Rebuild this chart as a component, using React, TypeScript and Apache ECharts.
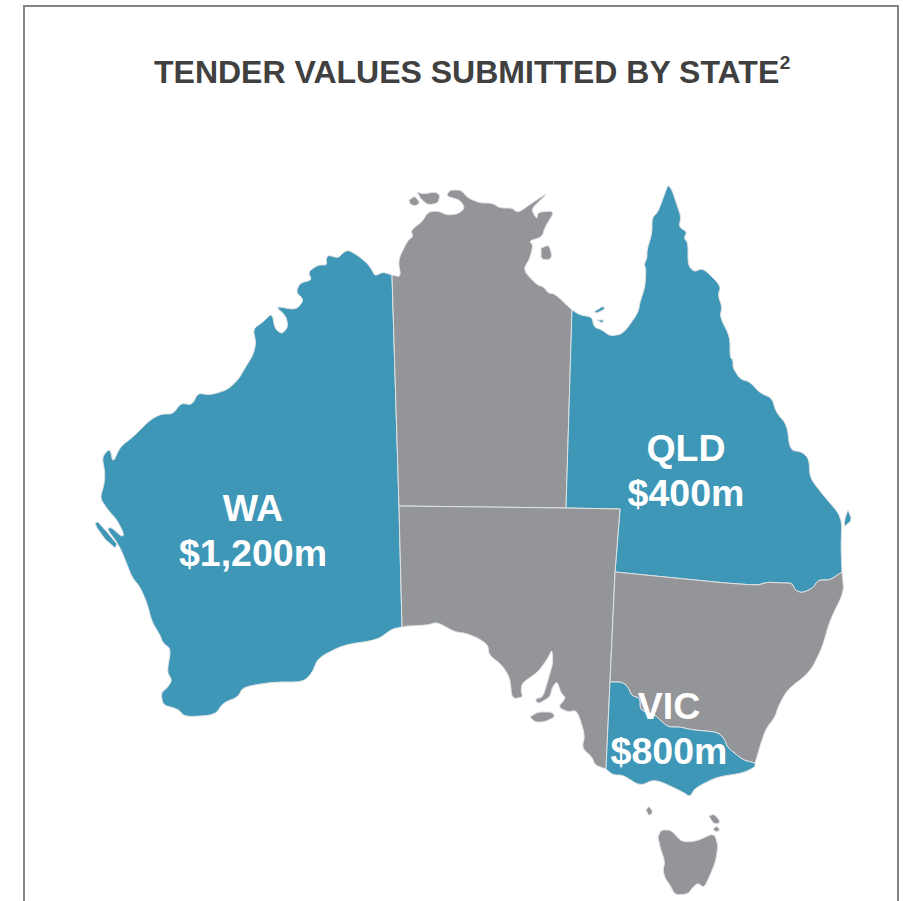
import React, { useEffect, useRef } from "react";
import * as echarts from "echarts";

type Pt = [number, number];

const titleText = "TENDER VALUES SUBMITTED BY STATE";
const titleNote = "2";
const tenderStates = ["WA", "QLD", "VIC"];
const tenderValues = [1200, 400, 800];
const otherStates = ["NT", "SA", "NSW", "TAS"];

// Map outlines (x, y in picture space).
const waCoast: Pt[] = [[392,275],[383,272],[375,276],[372,270],[367,263],[357,255],[348,250],[343,253],[338,258],[328,255],[326,260],[327,265],[318,265],[308,272],[312,280],[300,283],[296,292],[304,300],[296,310],[275,306],[286,316],[288,327],[282,334],[275,329],[272,313],[263,322],[253,329],[256,343],[253,355],[245,368],[238,380],[227,390],[210,395],[198,393],[192,405],[181,403],[173,414],[161,414],[150,420],[133,437],[120,447],[113,463],[110,448],[102,457],[105,473],[104,485],[100,498],[108,510],[117,520],[124,534],[122,537],[111,527],[107,529],[116,541],[119,546],[122,552],[128,567],[132,577],[140,587],[147,603],[152,622],[160,635],[163,643],[171,649],[167,672],[172,680],[168,687],[161,693],[163,705],[178,709],[185,717],[215,715],[223,703],[238,697],[243,687],[273,682],[303,682],[312,673],[318,658],[343,645],[377,640],[392,629],[402,627]];
const waNtBorder: Pt[] = [[392,275],[399,506]];
const ntSaBorderWest: Pt[] = [[399,506],[402,627]];
const ntCoast: Pt[] = [[392,275],[401,277],[398,260],[408,240],[413,237],[411,230],[422,222],[428,212],[438,211],[447,215],[458,214],[465,208],[460,200],[446,196],[450,190],[461,190],[468,198],[480,203],[492,203],[500,208],[512,208],[518,213],[532,203],[549,192],[532,208],[533,213],[537,219],[538,212],[555,211],[545,227],[542,237],[529,241],[533,245],[530,258],[523,270],[537,285],[544,287],[548,293],[555,294],[572,310]];
const ntQldBorder: Pt[] = [[572,310],[566,508]];
const ntSaBorder: Pt[] = [[399,506],[566,508]];
const saQldBorder: Pt[] = [[566,508],[620,509],[615,572]];
const qldCoast: Pt[] = [[572,310],[580,315],[592,317],[594,327],[602,330],[610,336],[623,334],[638,313],[640,302],[645,287],[646,268],[644,265],[647,258],[647,250],[652,233],[652,218],[658,212],[665,193],[668,185],[672,190],[677,205],[681,217],[679,227],[687,232],[684,238],[688,243],[688,265],[694,272],[703,268],[721,286],[718,295],[722,307],[720,317],[730,337],[730,357],[733,360],[733,368],[740,379],[750,382],[760,393],[772,398],[776,412],[787,425],[790,450],[802,452],[809,459],[810,478],[823,495],[842,517],[841,547],[842,572]];
const qldNswBorder: Pt[] = [[842,572],[830,580],[818,580],[813,588],[802,593],[795,590],[792,583],[780,583],[768,582],[755,586],[615,572]];
const saNswBorder: Pt[] = [[615,572],[610,682]];
const saVicBorder: Pt[] = [[610,682],[606,769]];
const saCoast: Pt[] = [[606,769],[595,765],[592,757],[582,748],[585,735],[577,710],[568,712],[558,707],[566,698],[561,693],[557,681],[552,688],[550,697],[538,704],[535,699],[543,697],[548,680],[553,663],[552,649],[548,658],[538,672],[522,683],[521,692],[523,697],[512,699],[510,678],[502,665],[489,655],[488,645],[478,638],[465,633],[455,632],[437,622],[428,625],[408,626],[402,627]];
const nswCoast: Pt[] = [[842,572],[844,592],[830,620],[822,648],[810,672],[787,690],[778,707],[775,717],[765,730],[755,763]];
const nswVicBorder: Pt[] = [[755,763],[743,760],[727,747],[725,740],[718,732],[693,730],[680,727],[668,727],[658,718],[655,715],[640,710],[640,698],[632,696],[628,687],[622,682],[610,682]];
const vicCoast: Pt[] = [[606,769],[613,775],[623,775],[640,786],[655,779],[683,792],[690,797],[695,788],[717,777],[743,773],[755,767],[755,763]];
const sharkBay: Pt[] = [[95,523],[98,522],[107,532],[117,544],[115,548],[105,539],[97,528],[95,523]];
const kangaroo: Pt[] = [[530,717],[538,712],[552,712],[555,717],[544,722],[535,722],[530,717]];
const melville: Pt[] = [[417,192],[423,194],[435,192],[440,195],[438,203],[428,205],[421,199],[417,192]];
const bathurst: Pt[] = [[409,200],[415,196],[420,203],[415,206],[410,204],[409,200]];
const groote: Pt[] = [[541,248],[549,245],[552,256],[549,260],[541,259],[541,248]];
const mornington: Pt[] = [[594,312],[603,306],[605,309],[597,313],[594,312]];
const bentinck: Pt[] = [[597,320],[604,320],[602,323],[597,320]];
const fraser: Pt[] = [[848,510],[852,520],[844,527],[845,518],[848,510]];
const tasmania: Pt[] = [[658,837],[661,830],[671,830],[680,840],[685,842],[697,841],[714,833],[718,845],[716,860],[711,873],[704,888],[698,883],[693,887],[688,894],[675,895],[670,885],[665,878],[663,870],[665,862],[660,847],[658,837]];
const kingIsland: Pt[] = [[646,810],[649,806],[653,812],[649,816],[646,810]];
const flinders: Pt[] = [[709,816],[714,814],[720,821],[718,824],[713,823],[709,816]];
const capeBarren: Pt[] = [[713,829],[717,826],[720,830],[716,832],[713,829]];

const labelAnchors: Record<string, Pt> = { WA: [253, 530], QLD: [686, 470], VIC: [669, 728], NT: [480, 400], SA: [500, 570], NSW: [730, 640], TAS: [690, 860] };

const smooth = (chain: Pt[], passes = 2, r = 0.2): Pt[] => {
  let pts = chain;
  if (pts.length < 3) return pts;
  for (let p = 0; p < passes; p++) {
    const out: Pt[] = [pts[0]];
    for (let i = 0; i < pts.length - 1; i++) {
      const [a, b] = [pts[i], pts[i + 1]];
      out.push([a[0] + (b[0] - a[0]) * r, a[1] + (b[1] - a[1]) * r]);
      out.push([a[0] + (b[0] - a[0]) * (1 - r), a[1] + (b[1] - a[1]) * (1 - r)]);
    }
    out.push(pts[pts.length - 1]);
    pts = out;
  }
  return pts;
};
const rev = (c: Pt[]) => [...c].reverse();
const ring = (...chains: Pt[][]) => {
  const pts: Pt[] = chains.flatMap((c) => c);
  const r = pts.map(([x, y]) => [x, -y]);
  r.push(r[0]);
  return [r];
};
const s = smooth;

const feature = (name: string, polys: number[][][][]) => ({
  type: "Feature",
  properties: { name, cp: [labelAnchors[name][0], -labelAnchors[name][1]] },
  geometry: { type: "MultiPolygon", coordinates: polys },
});

const geo = {
  type: "FeatureCollection",
  features: [
    feature("WA", [ring(s(waCoast), rev(ntSaBorderWest), rev(waNtBorder)), ring(sharkBay)]),
    feature("NT", [ring(s(ntCoast), ntQldBorder, rev(ntSaBorder), rev(waNtBorder)), ring(s(melville, 1)), ring(s(bathurst, 1)), ring(s(groote, 1))]),
    feature("QLD", [ring(s(qldCoast), s(qldNswBorder), rev(saQldBorder), rev(ntQldBorder)), ring(s(mornington, 1)), ring(bentinck), ring(s(fraser, 1))]),
    feature("SA", [ring(ntSaBorder, saQldBorder, saNswBorder, saVicBorder, s(saCoast), rev(ntSaBorderWest)), ring(s(kangaroo, 1))]),
    feature("NSW", [ring(s(nswCoast), s(nswVicBorder), rev(saNswBorder), rev(s(qldNswBorder)))]),
    feature("VIC", [ring(s(vicCoast), s(nswVicBorder), saVicBorder)]),
    feature("TAS", [ring(s(tasmania, 2)), ring(s(kingIsland, 1)), ring(s(flinders, 1)), ring(s(capeBarren, 1))]),
  ],
};

export default function App() {
  const ref = useRef<HTMLDivElement>(null);
  useEffect(() => {
    const chart = echarts.init(ref.current!, undefined, { renderer: "svg" });
    echarts.registerMap("australia", geo as any);
    const data = [
      ...tenderStates.map((name, i) => ({
        name,
        value: tenderValues[i],
        itemStyle: { areaColor: "#3f97b7" },
        label: { show: true },
      })),
      ...otherStates.map((name) => ({ name, itemStyle: { areaColor: "#939598" }, label: { show: false } })),
    ];
    chart.setOption({
      animation: false,
      backgroundColor: "#ffffff",
      title: {
        text: `{t|${titleText}}{n|${titleNote}}`,
        left: 149,
        top: 48,
        textStyle: {
          rich: {
            t: { fontFamily: "'Liberation Sans', Arial, sans-serif", fontWeight: "bold", fontSize: 32, lineHeight: 38, color: "#404040" },
            n: { fontFamily: "'Liberation Sans', Arial, sans-serif", fontWeight: "bold", fontSize: 19, lineHeight: 19, color: "#404040", verticalAlign: "top" },
          },
        },
      },
      graphic: [
        {
          type: "polyline",
          silent: true,
          shape: { points: [[24, 901], [24, 6], [898, 6], [898, 901]] },
          style: { stroke: "#838487", lineWidth: 2, fill: "none" },
        },
      ],
      series: [
        {
          type: "map",
          map: "australia",
          roam: false,
          silent: true,
          aspectScale: 1,
          boundingCoords: [[90, -180], [850, -900]],
          left: 90,
          top: 180,
          width: 760,
          height: 720,
          itemStyle: { areaColor: "#939598", borderColor: "#dfe2e4", borderWidth: 1 },
          emphasis: { disabled: true },
          select: { disabled: true },
          selectedMode: false,
          label: {
            show: false,
            formatter: (p: any) => `${p.name}\n$${Number(p.value).toLocaleString("en-US")}m`,
            fontFamily: "'Liberation Sans', Arial, sans-serif",
            fontWeight: "bold",
            fontSize: 37.5,
            lineHeight: 45,
            color: "#ffffff",
            align: "center",
          },
          data,
        },
      ],
    });
    return () => chart.dispose();
  }, []);
  return <div ref={ref} style={{ position: "absolute", left: 0, top: 0, width: 903, height: 901 }} />;
}
